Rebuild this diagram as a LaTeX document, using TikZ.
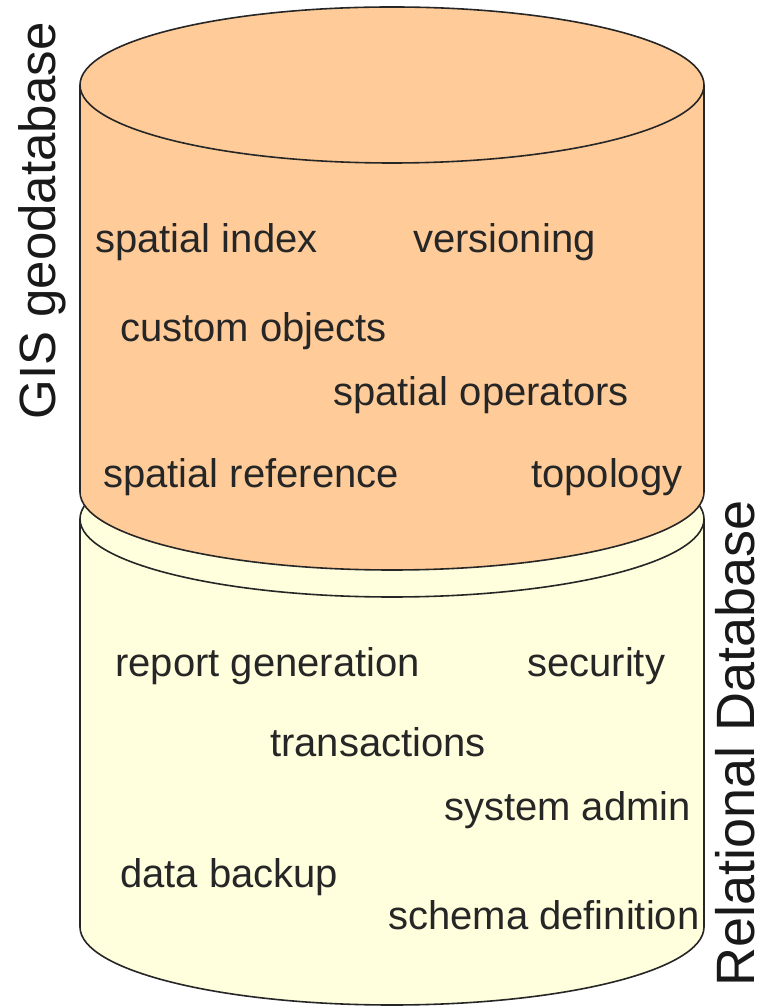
\documentclass[tikz,border=0pt]{standalone}
\usepackage{fontspec}
\setmainfont{Liberation Sans}
\definecolor{geoorange}{HTML}{FFCC99}
\definecolor{dbcream}{HTML}{FFFFDD}
\tikzset{
    feature/.style={anchor=base west, inner sep=0pt, text=black!85,
        font=\fontsize{40}{40}\selectfont},
    layer/.style={anchor=base, inner sep=0pt, rotate=90, text=black!90,
        font=\fontsize{51}{51}\selectfont},
    rim/.style={draw=black!85, line width=1.6pt}
}
\begin{document}
\begin{tikzpicture}[x=1pt,y=1pt]
        \fill[white] (0,0) rectangle (765,1007);
        \useasboundingbox (0,0) rectangle (765,1007);
        \filldraw[rim, fill=dbcream] (80,488) -- (80,80)
            arc[start angle=180, end angle=360, x radius=312pt, y radius=78pt]
            -- (704,488)
            arc[start angle=0, end angle=180, x radius=312pt, y radius=78pt] -- cycle;
        \draw[rim] (80,488) arc[start angle=180, end angle=360, x radius=312pt, y radius=78pt];
        \filldraw[rim, fill=geoorange] (80,922) -- (80,515)
            arc[start angle=180, end angle=360, x radius=312pt, y radius=78pt]
            -- (704,922)
            arc[start angle=0, end angle=180, x radius=312pt, y radius=78pt] -- cycle;
        \draw[rim] (80,922) arc[start angle=180, end angle=360, x radius=312pt, y radius=78pt];
        \node[feature] (index) at (95,754) {spatial index};
        \node[feature] (versioning) at (413,754) {versioning};
        \node[feature] (custom) at (120,665) {custom objects};
        \node[feature] (operators) at (333,601) {spatial operators};
        \node[feature] (reference) at (103,519) {spatial reference};
        \node[feature] (topology) at (531,519) {topology};
        \node[feature] (report) at (115,330) {report generation};
        \node[feature] (security) at (527,330) {security};
        \node[feature] (transactions) at (270,250) {transactions};
        \node[feature] (admin) at (444,186) {system admin};
        \node[feature] (backup) at (120,119) {data backup};
        \node[feature] (schema) at (388,77) {schema definition};
        \node[layer] (gis) at (55,786) {GIS geodatabase};
        \node[layer, font=\fontsize{54}{54}\selectfont] (rdbms) at (754,264) {Relational Database};
    \end{tikzpicture}
\end{document}
